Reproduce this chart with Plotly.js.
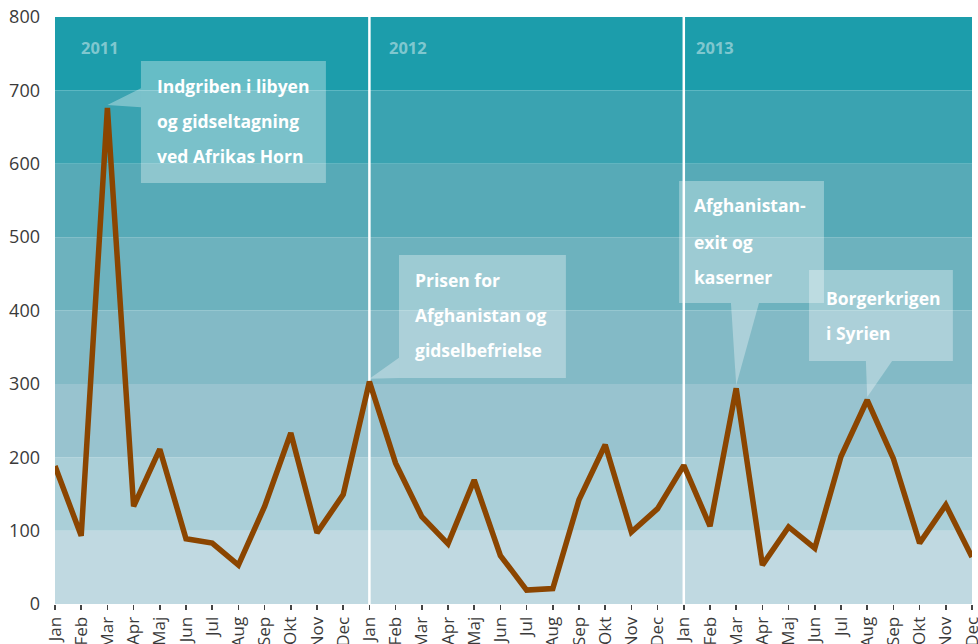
<!DOCTYPE html>
<html>
<head>
<meta charset="utf-8">
<script src="https://cdn.plot.ly/plotly-3.0.1.min.js"></script>
<style>html,body{margin:0;padding:0;background:#fff;}#chart{width:978px;height:644px;}</style>
</head>
<body>
<div id="chart"></div>
<script>
const months = ['Jan','Feb','Mar','Apr','Maj','Jun','Jul','Aug','Sep','Okt','Nov','Dec'];
const years = ['2011','2012','2013'];
const values2011 = [188, 93, 676, 133, 211, 89, 83, 53, 133, 233, 97, 149];
const values2012 = [303, 192, 119, 82, 169, 66, 19, 21, 142, 217, 98, 130];
const values2013 = [189, 106, 294, 53, 105, 76, 201, 278, 198, 83, 135, 64];
const bandColors = ['#c0d9e1','#aacfd8','#98c3cf','#83bac6','#6db2be','#57aab7','#3aa3b1','#1c9dab'];
const bandStep = 100;
const callouts = [
  {lines: ['Indgriben i libyen','og gidseltagning','ved Afrikas Horn'], target: 2},
  {lines: ['Prisen for','Afghanistan og','gidselbefrielse'], target: 12},
  {lines: ['Afghanistan-','exit og','kaserner'], target: 26},
  {lines: ['Borgerkrigen','i Syrien'], target: 31}
];

const values = values2011.concat(values2012, values2013);
const xIdx = values.map((v, i) => i);
const tickText = years.flatMap(() => months);

const shapes = [];
bandColors.forEach((c, i) => {
  shapes.push({type:'rect', xref:'paper', yref:'y', x0:0, x1:1, y0:i*bandStep, y1:(i+1)*bandStep,
    fillcolor:c, line:{width:0}, layer:'below'});
});
[12, 24].forEach(x => {
  shapes.push({type:'line', xref:'x', yref:'y', x0:x, x1:x, y0:0, y1:800,
    line:{color:'#ffffff', width:2.5}, layer:'below'});
});

// callout geometry (layout only)
const boxFill = 'rgba(255,255,255,0.33)';
const geo = [
  {x0:3.28, x1:10.34, y0:573.8, y1:740, tri:'left', b0:677, b1:703, tx:3.82, ty:[706,658.3,610.6]},
  {x0:13.13, x1:19.5, y0:308, y1:475.6, tri:'left', b0:308, b1:335.5, tx:13.66, ty:[441.6,393.9,346.2]},
  {x0:23.82, x1:29.35, y0:410.2, y1:576.5, tri:'down', b0:25.8, b1:26.87, tx:24.31, ty:[543.8,494.0,446.3]},
  {x0:28.78, x1:34.27, y0:331.2, y1:455.2, tri:'down', b0:30.95, b1:31.95, tx:29.35, ty:[417,369.3]}
];
const annotations = [];
callouts.forEach((c, k) => {
  const g = geo[k];
  const ax = c.target, ay = values[c.target] + 4;
  shapes.push({type:'rect', xref:'x', yref:'y', x0:g.x0, x1:g.x1, y0:g.y0, y1:g.y1,
    fillcolor:boxFill, line:{width:0}, layer:'below'});
  let path;
  if (g.tri === 'left') {
    path = `M ${ax} ${ay} L ${g.x0} ${g.b1} L ${g.x0} ${g.b0} Z`;
  } else {
    path = `M ${ax} ${ay} L ${g.b0} ${g.y0} L ${g.b1} ${g.y0} Z`;
  }
  shapes.push({type:'path', xref:'x', yref:'y', path:path, fillcolor:boxFill, line:{width:0}, layer:'below'});
  c.lines.forEach((t, j) => {
    annotations.push({x:g.tx, y:g.ty[j], xref:'x', yref:'y', text:t, showarrow:false,
      xanchor:'left', yanchor:'middle',
      font:{family:'Open Sans, sans-serif', size:17.5, color:'#ffffff', weight:700}});
  });
});
const yearX = [0.9, 12.66, 24.38];
years.forEach((y, i) => {
  annotations.push({x:yearX[i], y:759, xref:'x', yref:'y', text:y, showarrow:false,
    xanchor:'left', yanchor:'middle',
    font:{family:'Open Sans, sans-serif', size:16.5, color:'rgba(255,255,255,0.45)', weight:700}});
});

const trace = {
  x: xIdx, y: values, type:'scatter', mode:'lines',
  line:{color:'#8b4500', width:5.5}, cliponaxis:false, hoverinfo:'skip'
};

const layout = {
  width:978, height:644,
  margin:{l:55, r:6, t:17, b:40},
  paper_bgcolor:'#ffffff', plot_bgcolor:'#ffffff',
  showlegend:false,
  font:{family:'Open Sans, sans-serif', color:'#3a3a3a'},
  xaxis:{range:[0,35], tickmode:'array', tickvals:xIdx, ticktext:tickText, tickangle:-90,
    showgrid:false, zeroline:false, showline:false, ticks:'outside', ticklen:5, tickwidth:1.5,
    tickcolor:'#444', tickfont:{size:17, color:'#3a3a3a'}, ticklabeloverflow:'allow',
    automargin:false, fixedrange:true},
  yaxis:{range:[0,800], tickvals:[0,100,200,300,400,500,600,700,800], showgrid:false, zeroline:false,
    showline:false, ticks:'', tickfont:{size:18, color:'#3a3a3a'}, ticklabelstandoff:14,
    ticklabeloverflow:'allow', automargin:false, fixedrange:true},
  shapes:shapes, annotations:annotations
};
Plotly.newPlot('chart', [trace], layout, {staticPlot:true, displayModeBar:false});
</script>
</body>
</html>
